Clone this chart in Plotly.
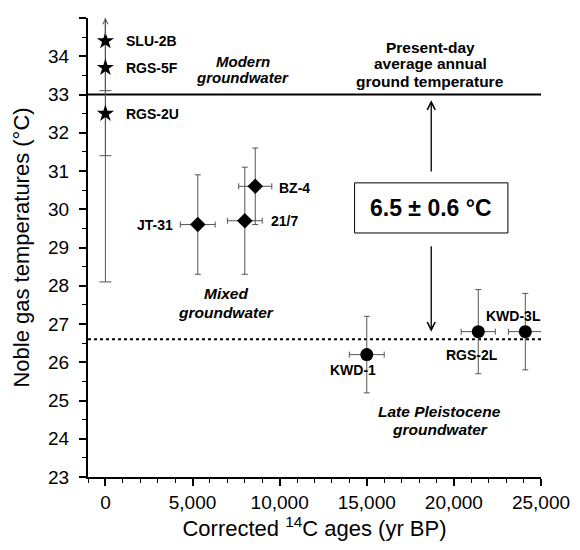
import plotly.graph_objects as go

# ---- data ----
star_names = ["SLU-2B", "RGS-5F", "RGS-2U"]
star_age = [0, 0, 0]
star_ngt = [34.4, 33.7, 32.5]
star_ngt_err = [1.3, 2.3, 4.4]

mixed_names = ["JT-31", "21/7", "BZ-4"]
mixed_age = [5300, 8000, 8600]
mixed_age_err = [1000, 1000, 950]
mixed_ngt = [29.6, 29.7, 30.6]
mixed_ngt_err = [1.3, 1.4, 1.0]

late_names = ["KWD-1", "RGS-2L", "KWD-3L"]
late_age = [15000, 21400, 24100]
late_age_err = [1000, 980, 970]
late_ngt = [26.2, 26.8, 26.8]
late_ngt_err = [1.0, 1.1, 1.0]

present_day_temp = 33.0
late_pleist_temp = 26.6
delta_text = "6.5 ± 0.6 °C"

x_ticks = [0, 5000, 10000, 15000, 20000, 25000]
y_ticks = list(range(23, 36))

FONT = "Liberation Sans, Arial, sans-serif"
ERRC = "#555555"

fig = go.Figure()

# reference lines
fig.add_trace(go.Scatter(x=[-1000, 25000], y=[present_day_temp] * 2, mode="lines",
                         line=dict(color="black", width=2), showlegend=False, hoverinfo="skip"))
fig.add_trace(go.Scatter(x=[-1000, 25000], y=[late_pleist_temp] * 2, mode="lines",
                         line=dict(color="black", width=2, dash="dot"), showlegend=False, hoverinfo="skip"))

# stars (modern)
fig.add_trace(go.Scatter(
    x=star_age, y=star_ngt, mode="markers",
    marker=dict(symbol="star", size=13, color="black"),
    error_y=dict(type="data", array=star_ngt_err, color=ERRC, thickness=1, width=6),
    showlegend=False))

# diamonds (mixed)
fig.add_trace(go.Scatter(
    x=mixed_age, y=mixed_ngt, mode="markers",
    marker=dict(symbol="diamond", size=12, color="black"),
    error_x=dict(type="data", array=mixed_age_err, color=ERRC, thickness=1, width=3),
    error_y=dict(type="data", array=mixed_ngt_err, color=ERRC, thickness=1, width=3),
    showlegend=False))

# circles (late Pleistocene)
fig.add_trace(go.Scatter(
    x=late_age, y=late_ngt, mode="markers",
    marker=dict(symbol="circle", size=13, color="black"),
    error_x=dict(type="data", array=late_age_err, color=ERRC, thickness=1, width=3),
    error_y=dict(type="data", array=late_ngt_err, color=ERRC, thickness=1, width=3),
    showlegend=False))

# box around the temperature difference
fig.add_shape(type="rect", x0=14300, x1=23100, y0=29.38, y1=30.69,
              line=dict(color="black", width=1), fillcolor="white", layer="above")

ann = []
def add_label(txt, x, y, xanchor="left", size=14, italic=False):
    t = f"<b>{txt}</b>"
    if italic:
        t = f"<i>{t}</i>"
    ann.append(dict(x=x, y=y, xref="x", yref="y", text=t, showarrow=False,
                    xanchor=xanchor, yanchor="middle",
                    font=dict(size=size, color="black", family=FONT)))

# point labels
add_label(star_names[0], 1075, 34.4)
add_label(star_names[1], 1075, 33.7)
add_label(star_names[2], 1075, 32.5)
add_label(mixed_names[0], 4000, 29.6, "right")
add_label(mixed_names[1], 9380, 29.7)
add_label(mixed_names[2], 9850, 30.55)
add_label(late_names[0], 14200, 25.8, "center")
add_label(late_names[1], 21050, 26.2, "center")
add_label(late_names[2], 23450, 27.2, "center")

# region labels
add_label("Modern", 7870, 33.87, "center", 15, True)
add_label("groundwater", 7870, 33.44, "center", 15, True)
add_label("Present-day", 18650, 34.24, "center", 15.5)
add_label("average annual", 18650, 33.80, "center", 15.5)
add_label("ground temperature", 18650, 33.34, "center", 15.5)
add_label("Mixed", 6910, 27.80, "center", 15.5, True)
add_label("groundwater", 6910, 27.30, "center", 15.5, True)
add_label("Late Pleistocene", 19200, 24.71, "center", 15.5, True)
add_label("groundwater", 19200, 24.23, "center", 15.5, True)

# box text
ann.append(dict(x=18700, y=30.03, xref="x", yref="y", text=f"<b>{delta_text}</b>",
                showarrow=False, font=dict(size=23, color="black", family=FONT)))

# arrows
ann.append(dict(x=18700, y=32.85, ax=18700, ay=30.95, xref="x", yref="y", axref="x", ayref="y",
                text="", showarrow=True, arrowhead=5, arrowsize=1.2, arrowwidth=1.3,
                arrowcolor="black", standoff=0, startstandoff=0))
ann.append(dict(x=18700, y=26.8, ax=18700, ay=29.07, xref="x", yref="y", axref="x", ayref="y",
                text="", showarrow=True, arrowhead=5, arrowsize=1.2, arrowwidth=1.3,
                arrowcolor="black", standoff=0, startstandoff=0))
# open-ended upper error (arrow at top of modern samples)
ann.append(dict(x=0, y=35.0, ax=0, ay=34.5, xref="x", yref="y", axref="x", ayref="y",
                text="", showarrow=True, arrowhead=5, arrowsize=1.0, arrowwidth=1,
                arrowcolor=ERRC, standoff=0, startstandoff=0))

# page body has an 8px default margin, so the figure is slightly smaller
fig.update_layout(
    width=572, height=542,
    margin=dict(l=80, r=32, t=10, b=73),
    paper_bgcolor="white", plot_bgcolor="white",
    font=dict(family=FONT, color="black"),
    annotations=ann,
    showlegend=False,
)
fig.update_xaxes(
    range=[-1000, 25000], tickvals=x_ticks, tickformat=",d",
    showline=True, linecolor="black", linewidth=2, mirror=False,
    ticks="outside", ticklen=7, tickwidth=1.5, tickcolor="black",
    minor=dict(dtick=1000, tick0=0, ticks="outside", ticklen=4, tickcolor="black", tickwidth=1),
    showgrid=False, zeroline=False,
    tickfont=dict(size=19, family=FONT, color="black"),
    title=dict(text="Corrected <sup>14</sup>C ages (yr BP)", font=dict(size=22, family=FONT, color="black"),
               standoff=8),
)
fig.update_yaxes(
    range=[23, 35], tickvals=y_ticks,
    showline=True, linecolor="black", linewidth=2, mirror=False,
    ticks="outside", ticklen=7, tickwidth=1.5, tickcolor="black",
    minor=dict(dtick=0.5, tick0=23, ticks="outside", ticklen=4, tickcolor="black", tickwidth=1),
    showgrid=False, zeroline=False, ticklabelstandoff=6,
    tickfont=dict(size=19, family=FONT, color="black"),
    title=dict(text="Noble gas temperatures (°C)", font=dict(size=22, family=FONT, color="black"),
               standoff=12),
)

fig.write_html("out.html")
